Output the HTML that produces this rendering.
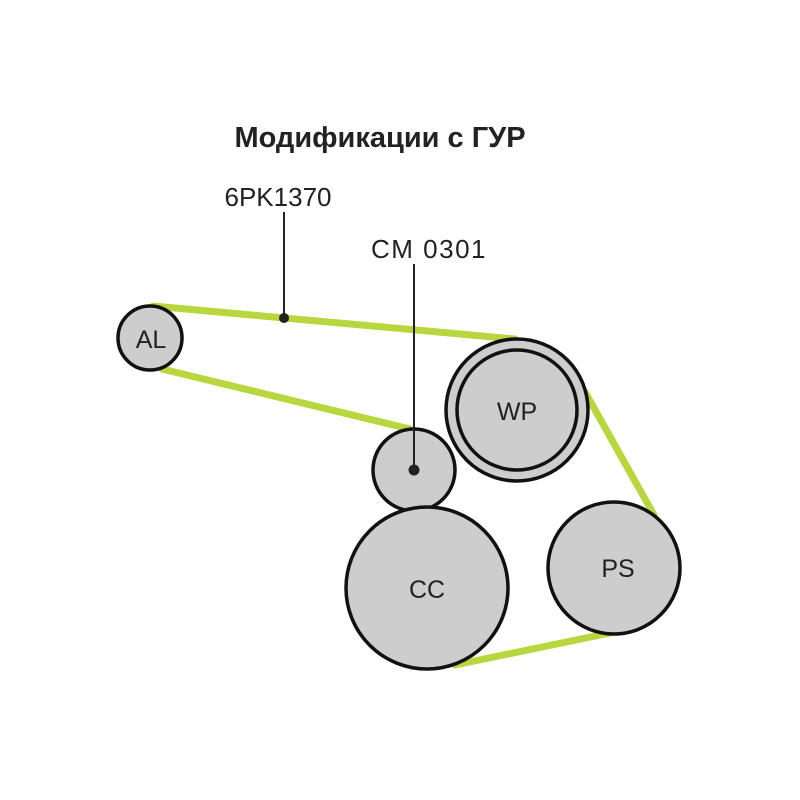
<!DOCTYPE html>
<html><head><meta charset="utf-8"><style>
html,body{margin:0;padding:0;background:#fff;}
svg{display:block}
text{font-family:"Liberation Sans",sans-serif;fill:#222}
</style></head><body>
<svg width="800" height="800" viewBox="0 0 800 800">
<text x="380" y="147" font-size="29" font-weight="bold" text-anchor="middle" fill="#1a1a1a">Модификации с ГУР</text>
<text x="278" y="206" font-size="26" text-anchor="middle">6PK1370</text>
<text x="429" y="258" font-size="26" text-anchor="middle" letter-spacing="1.5">CM 0301</text>
<g stroke="#b8d63e" stroke-width="7" stroke-linecap="round" fill="none">
<line x1="153" y1="306" x2="515" y2="339"/>
<line x1="162" y1="369" x2="410" y2="429"/>
<line x1="585" y1="392" x2="654" y2="515"/>
<line x1="610" y1="633" x2="455" y2="665"/>
</g>
<g stroke="#111" stroke-width="3.5" fill="#cdcdcd">
<circle cx="150" cy="338" r="32"/>
<circle cx="517" cy="410" r="71"/>
<circle cx="517" cy="410" r="60"/>
<circle cx="414" cy="470" r="41"/>
<circle cx="427" cy="588" r="81"/>
<circle cx="614" cy="568" r="66"/>
</g>
<g stroke="#222" stroke-width="2">
<line x1="284" y1="212" x2="284" y2="318"/>
<line x1="414" y1="264" x2="414" y2="470"/>
</g>
<circle cx="284" cy="318" r="5" fill="#222"/>
<circle cx="414" cy="470" r="5.5" fill="#222"/>
<g font-size="25" text-anchor="middle">
<text x="151" y="348">AL</text>
<text x="517" y="420">WP</text>
<text x="427" y="598">CC</text>
<text x="618" y="577">PS</text>
</g>
</svg>
</body></html>
